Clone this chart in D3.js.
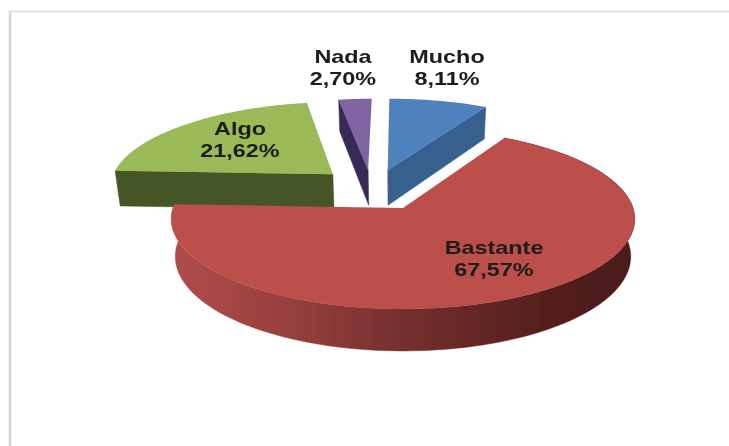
<!DOCTYPE html>
<html><head><meta charset="utf-8">
<script src="https://cdn.jsdelivr.net/npm/d3@7/dist/d3.min.js"></script>
<style>html,body{margin:0;padding:0;background:#fff;overflow:hidden}</style>
</head><body><svg id="c" width="729" height="446"></svg>
<script>
const categories = ["Mucho","Bastante","Algo","Nada"];
const values = [8.11,67.57,21.62,2.70];
const valueLabels = ["8,11%","67,57%","21,62%","2,70%"];
const topColors = ["#4f81bd","#bd4f4c","#9aba58","#8064a2"];
const wallColors = ["#37618f","url(#redWall)","#445425","#392c57"];
const wallFace = ["end","rim","start","start"];
const explodeU = [-0.07,0,-0.32,-0.16];
const explodeV = [-0.45,0,-0.40,-0.45];
const labelX = [447,494,240,343];
const labelY = [63,254,135,63];

const svg = d3.select("#c");
const defs = svg.append("defs");
const g = defs.append("linearGradient").attr("id","redWall").attr("gradientUnits","userSpaceOnUse")
  .attr("x1",172).attr("x2",635).attr("y1",0).attr("y2",0);
[[0,"#b04c49"],[0.25,"#97403e"],[0.5,"#752f2d"],[0.8,"#551f1e"],[1,"#4a1b1a"]]
  .forEach(s=>g.append("stop").attr("offset",s[0]).attr("stop-color",s[1]));
defs.append("filter").attr("id","soft").append("feGaussianBlur").attr("stdDeviation",0.6);
defs.append("filter").attr("id","softText").append("feGaussianBlur").attr("stdDeviation",0.7);

// frame
const frame = svg.append("g").attr("fill","none");
frame.append("path").attr("d","M10,446V11.5").attr("stroke","#d4d4d4").attr("stroke-width",2.4);
frame.append("path").attr("d","M9,11.5H729").attr("stroke","#dadada").attr("stroke-width",1.6);

const k = 0.122;
const xTop = d3.scaleLinear().domain([-1,1]).range([403-230,403+230]);
const xBot = d3.scaleLinear().domain([-1,1]).range([403-226,403+226]);
const yTop = d3.scaleLinear().domain([-1,1]).range([208-88.7,208+88.7]);
const yBot = d3.scaleLinear().domain([-1,1]).range([245-93,245+93]);
const proj = (u,v,xs,ys)=>{const p=1/(1-k*v);return [xs(u*p),ys(v*p)];};
const line = d3.line();
const arcs = d3.pie().sort(null).value(d=>d)(values);

const chart = svg.append("g").attr("filter","url(#soft)");
// paint back slices first, the big one last
[0,3,2,1].forEach(i=>{
  const a = arcs[i], u0=explodeU[i], v0=explodeV[i];
  const n = Math.max(4,Math.round((a.endAngle-a.startAngle)*40));
  const rim = d3.range(n+1).map(j=>{
    const t=a.startAngle+(a.endAngle-a.startAngle)*j/n;
    return [u0+Math.sin(t),v0-Math.cos(t)];
  });
  const P = (pt,xs,ys)=>proj(pt[0],pt[1],xs,ys);
  const rimTop = rim.map(p=>P(p,xTop,yTop));
  const rimBot = rim.map(p=>P(p,xBot,yBot));
  const cT = P([u0,v0],xTop,yTop), cB = P([u0,v0],xBot,yBot);
  const wall = chart.append("g").attr("fill",wallColors[i]).attr("stroke",wallColors[i]).attr("stroke-width",0.5);
  if (wallFace[i]==="rim") wall.append("path").attr("d",line([...rimTop,...rimBot.slice().reverse()])+"Z");
  if (wallFace[i]==="start") wall.append("path").attr("d",line([cT,rimTop[0],rimBot[0],cB])+"Z");
  if (wallFace[i]==="end") wall.append("path").attr("d",line([cT,rimTop[n],rimBot[n],cB])+"Z");
  chart.append("path").attr("d",line([cT,...rimTop])+"Z").attr("fill",topColors[i]);
});

const labels = svg.append("g").attr("font-family","'Liberation Sans',Arial,sans-serif")
  .attr("font-weight",700).attr("font-size",18).attr("fill","#1c1c1c").attr("text-anchor","middle")
  .attr("filter","url(#softText)");
categories.forEach((c,i)=>{
  const t = labels.append("g").attr("transform",`translate(${labelX[i]},${labelY[i]}) scale(1.3,1)`);
  t.append("text").text(c);
  t.append("text").attr("y",22.5).text(valueLabels[i]);
});
</script></body></html>
